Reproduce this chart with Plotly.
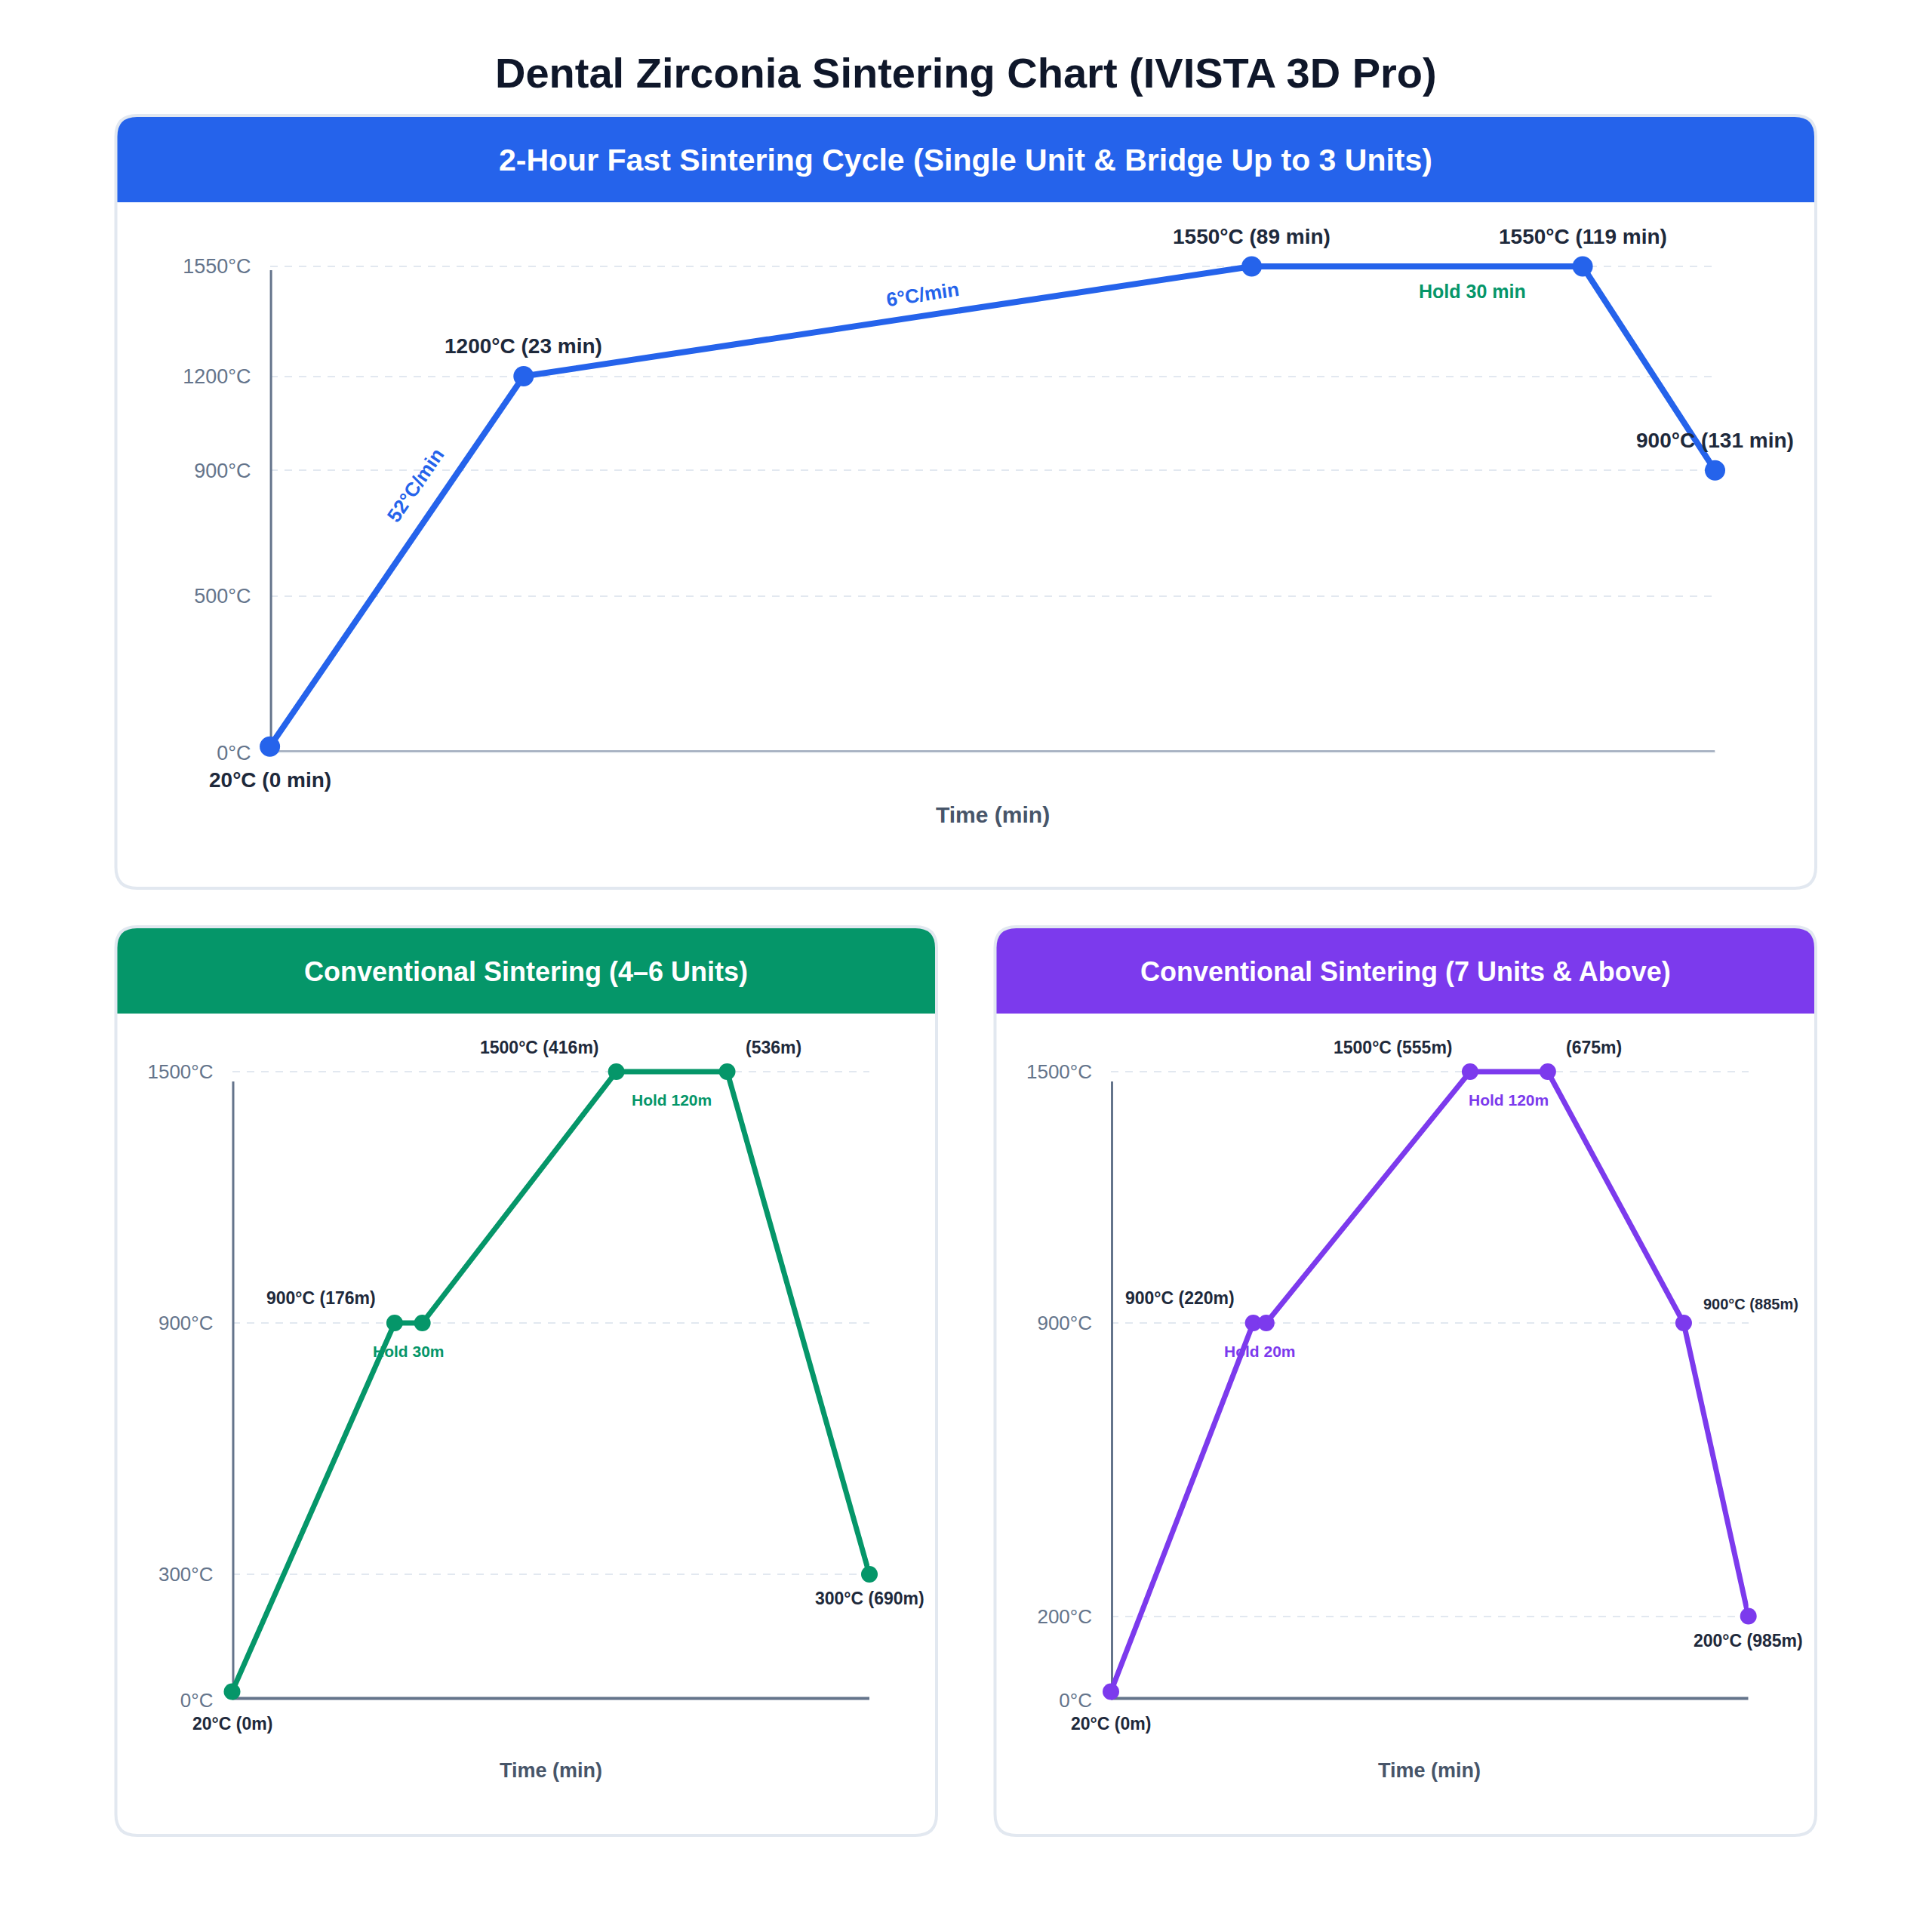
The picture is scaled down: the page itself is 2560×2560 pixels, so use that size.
"""Dental zirconia sintering chart: one fast cycle and two conventional cycles."""

import plotly.graph_objects as go

W = H = 2560
FONT = "Liberation Sans, Arial, Helvetica, sans-serif"

TITLE = "Dental Zirconia Sintering Chart (IVISTA 3D Pro)"

# 2-hour fast cycle
fast_title = "2-Hour Fast Sintering Cycle (Single Unit & Bridge Up to 3 Units)"
fast_time = [0, 23, 89, 119, 131]
fast_temp = [20, 1200, 1550, 1550, 900]
fast_labels = ["20°C (0 min)", "1200°C (23 min)", "1550°C (89 min)", "1550°C (119 min)", "900°C (131 min)"]
fast_ticks = [0, 500, 900, 1200, 1550]
fast_rates = ["52°C/min", "6°C/min", "55°C/min"]
fast_hold = "Hold 30 min"

# conventional 4-6 units
mid_title = "Conventional Sintering (4–6 Units)"
mid_time = [0, 176, 206, 416, 536, 690]
mid_temp = [20, 900, 900, 1500, 1500, 300]
mid_labels = ["20°C (0m)", "900°C (176m)", "", "1500°C (416m)", "(536m)", "300°C (690m)"]
mid_ticks = [0, 300, 900, 1500]
mid_holds = ["Hold 30m", "Hold 120m"]

# conventional 7+ units
big_title = "Conventional Sintering (7 Units & Above)"
big_time = [0, 220, 240, 555, 675, 885, 985]
big_temp = [20, 900, 900, 1500, 1500, 900, 200]
big_labels = ["20°C (0m)", "900°C (220m)", "", "1500°C (555m)", "(675m)", "900°C (885m)", "200°C (985m)"]
big_ticks = [0, 200, 900, 1500]
big_holds = ["Hold 20m", "Hold 120m"]

BLUE = "#2563eb"
GREEN = "#059669"
PURPLE = "#7c3aed"
RED = "#dc2626"
DARK = "#1e293b"
SLATE = "#64748b"
BORDER = "#e2e8f0"

# the page puts the figure 8px in from the corner
OFF = 8


def px(x):
    return (x - OFF) / W


def py(y):
    return 1 - (y - OFF) / H


def rounded_path(x0, y0, x1, y1, r, square_bottom=False):
    pts = [
        ("M", x0 + r, y0), ("L", x1 - r, y0), ("Q", x1, y0, x1, y0 + r),
    ]
    if square_bottom:
        pts += [("L", x1, y1), ("L", x0, y1)]
    else:
        pts += [
            ("L", x1, y1 - r), ("Q", x1, y1, x1 - r, y1),
            ("L", x0 + r, y1), ("Q", x0, y1, x0, y1 - r),
        ]
    pts += [("L", x0, y0 + r), ("Q", x0, y0, x0 + r, y0)]
    out = []
    for p in pts:
        cmd, coords = p[0], p[1:]
        pairs = [f"{px(coords[i]):.5f},{py(coords[i + 1]):.5f}" for i in range(0, len(coords), 2)]
        out.append(cmd + " ".join(pairs))
    return " ".join(out) + " Z"


fig = go.Figure()

# panel geometry in pixels: (left, top, right, bottom, header bottom)
panels = [
    (153.5, 153, 2406, 1177, 268, BLUE, fast_title, 41),
    (153.5, 1228, 1241, 2432, 1343, GREEN, mid_title, 36),
    (1318.5, 1228, 2406, 2432, 1343, PURPLE, big_title, 36),
]
shapes = []
annotations = []
for x0, y0, x1, y1, hb, color, head, fs in panels:
    shapes.append(dict(type="path", path=rounded_path(x0, y0, x1, y1, 28), xref="paper", yref="paper",
                       fillcolor="white", line=dict(width=0), layer="below"))
    shapes.append(dict(type="path", path=rounded_path(x0, y0, x1, hb, 28, square_bottom=True),
                       xref="paper", yref="paper", fillcolor=color, line=dict(width=0), layer="below"))
    shapes.append(dict(type="path", path=rounded_path(x0, y0, x1, y1, 28), xref="paper", yref="paper",
                       fillcolor="rgba(0,0,0,0)", line=dict(color=BORDER, width=4), layer="below"))
    annotations.append(dict(text=f"<b>{head}</b>", x=px((x0 + x1) / 2), y=py((y0 + hb) / 2 + 2),
                            xref="paper", yref="paper", showarrow=False,
                            xanchor="center", yanchor="middle",
                            font=dict(family=FONT, size=fs, color="white")))

annotations.append(dict(text=f"<b>{TITLE}</b>", x=px(1280), y=py(96), xref="paper", yref="paper",
                        showarrow=False, xanchor="center", yanchor="middle",
                        font=dict(family=FONT, size=56, color="#0f172a")))

# (axis suffix, x data, y data, color, x range, x domain px, y domain px, ticks, tick size, line width, marker size)
charts = [
    ("", fast_time, fast_temp, BLUE, 131, (357.6, 2272.5), (353, 997.5), 1550, fast_ticks, 27, 8, 27),
    ("2", mid_time, mid_temp, GREEN, 690, (307.5, 1152), (1420, 2252.6), 1500, mid_ticks, 26, 7, 22),
    ("3", big_time, big_temp, PURPLE, 985, (1472, 2316.7), (1420, 2252.6), 1500, big_ticks, 26, 7, 22),
]
TOP_PAD = 30  # px of room above the top tick so the hold line is not clipped

for sfx, xs, ys, color, xmax, (dx0, dx1), (dy0, dy1), ymax, ticks, tfs, lw, ms in charts:
    sy = (dy1 - dy0) / ymax
    fig.add_trace(go.Scatter(
        x=xs, y=ys, mode="lines+markers", xaxis="x" + sfx, yaxis="y" + sfx,
        line=dict(color=color, width=lw), marker=dict(color=color, size=ms),
        cliponaxis=False, showlegend=False, hoverinfo="x+y",
    ))
    fig.update_layout(**{
        "xaxis" + sfx: dict(domain=[px(dx0), px(dx1)], range=[0, xmax], anchor="y" + sfx,
                            showgrid=False, zeroline=False, showline=False, showticklabels=False,
                            automargin=False, fixedrange=True),
        "yaxis" + sfx: dict(domain=[py(dy1), py(dy0 - TOP_PAD)], range=[0, ymax + TOP_PAD / sy],
                            anchor="x" + sfx,
                            tickvals=ticks, ticktext=[f"{t}°C" for t in ticks],
                            tickfont=dict(family=FONT, size=tfs, color=SLATE),
                            ticklabelstandoff=24, ticks="", automargin=False,
                            showgrid=True, gridcolor=BORDER, gridwidth=2, griddash="10px,9px",
                            zeroline=False, showline=False, fixedrange=True),
    })
    xr, yr = "x" + sfx, "y" + sfx
    ytop = ymax - (5 if sfx == "" else 13) / sy
    shapes.append(dict(type="line", xref=xr, yref=yr, x0=0, x1=0, y0=0, y1=ytop,
                       line=dict(color=SLATE, width=6), layer="between"))
    if sfx == "":
        shapes.append(dict(type="line", xref=xr, yref=yr, x0=0, x1=xmax, y0=0, y1=0,
                           line=dict(color="#8e9bb0", width=6.5), layer="between"))
        shapes.append(dict(type="line", xref=xr, yref=yr, x0=0, x1=xmax, y0=0, y1=0,
                           line=dict(color="#eef2f6", width=3), layer="between"))
    else:
        shapes.append(dict(type="line", xref=xr, yref=yr, x0=0, x1=xmax, y0=0, y1=0,
                           line=dict(color=SLATE, width=8), layer="between"))
    annotations.append(dict(text="<b>Time (min)</b>", xref=xr + " domain", yref="paper", x=0.5,
                            y=py(1079 if sfx == "" else 2346), showarrow=False,
                            xanchor="center", yanchor="middle",
                            font=dict(family=FONT, size=30 if sfx == "" else 27, color="#475569")))


def label(text, x, y, axis, size, color=DARK, xanchor="center", xshift=0, yshift=0, angle=0):
    annotations.append(dict(text=f"<b>{text}</b>", x=x, y=y, xref="x" + axis, yref="y" + axis,
                            showarrow=False, xanchor=xanchor, yanchor="middle", xshift=xshift,
                            yshift=yshift, textangle=angle, font=dict(family=FONT, size=size, color=color)))


# fast cycle labels
label(fast_labels[0], fast_time[0], fast_temp[0], "", 28, yshift=-44)
for i in range(1, 5):
    label(fast_labels[i], fast_time[i], fast_temp[i], "", 28, yshift=40)
label(fast_rates[0], 13.2, 852, "", 26, color=BLUE, angle=-55.6)
label(fast_rates[1], 59.2, 1461, "", 26, color=BLUE, angle=-8.6)
label(fast_rates[2], 131.2, 1130, "", 26, color=RED, angle=57)
label(fast_hold, 109, fast_temp[2], "", 25, color=GREEN, yshift=-33)

# conventional labels
for axis, xs, ys, labs, holds, hcolor in [
    ("2", mid_time, mid_temp, mid_labels, mid_holds, GREEN),
    ("3", big_time, big_temp, big_labels, big_holds, PURPLE),
]:
    label(labs[0], xs[0], ys[0], axis, 23, yshift=-42)
    label(labs[1], xs[1], ys[1], axis, 23, xanchor="right", xshift=-23, yshift=33)
    label(labs[3], xs[3], ys[3], axis, 23, xanchor="right", xshift=-21, yshift=32)
    label(labs[4], xs[4], ys[4], axis, 23, xanchor="left", xshift=22, yshift=32)
    label(holds[0], (xs[1] + xs[2]) / 2, ys[1], axis, 21, color=hcolor, yshift=-37)
    label(holds[1], (xs[3] + xs[4]) / 2, ys[3], axis, 21, color=hcolor, yshift=-37)
    if len(xs) == 7:
        label(labs[5], xs[5], ys[5], axis, 20, xanchor="left", xshift=24, yshift=25)
    label(labs[-1], xs[-1], ys[-1], axis, 23, yshift=-32)

fig.update_layout(
    width=W, height=H, autosize=False,
    margin=dict(l=0, r=0, t=0, b=0, pad=0),
    paper_bgcolor="white", plot_bgcolor="rgba(0,0,0,0)",
    shapes=shapes, annotations=annotations,
    font=dict(family=FONT),
)

fig.write_html("out.html")
